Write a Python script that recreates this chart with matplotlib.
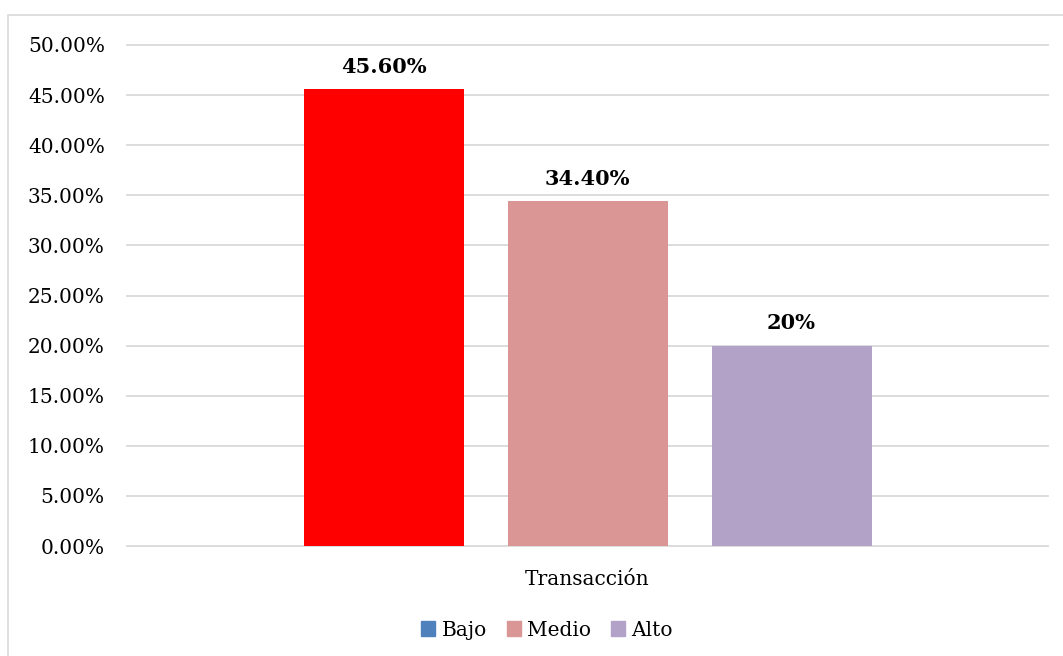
import matplotlib
matplotlib.use("Agg")
import matplotlib.pyplot as plt
from matplotlib.patches import Patch, Rectangle

niveles = ["Bajo", "Medio", "Alto"]
valores = [0.456, 0.344, 0.20]
etiquetas = ["45.60%", "34.40%", "20%"]
colores_barra = ["#FF0000", "#D99694", "#B3A2C7"]
colores_leyenda = ["#4F81BD", "#D99694", "#B3A2C7"]
categoria = "Transacción"
ticks = [i * 0.05 for i in range(11)]

plt.rcParams["font.family"] = ["DejaVu Serif"]

fig = plt.figure(figsize=(10.63, 6.56), dpi=100)
ax = fig.add_axes([127 / 1063, 1 - 546 / 656, 921 / 1063, 501 / 656])

# marco del gráfico
fig.patches.append(Rectangle((8 / 1063, -0.05), 1.2, 1 - 15 / 656 + 0.05,
                             transform=fig.transFigure, fill=False,
                             edgecolor="#d9d9d9", linewidth=1.2))

pos = [-1, 0, 1]
ancho = 160 / 204
ax.bar(pos, valores, width=ancho, color=colores_barra, zorder=3)
for x, v, t in zip(pos, valores, etiquetas):
    ax.annotate(t, (x, v), xytext=(0, 16), textcoords="offset points",
                ha="center", va="center", fontsize=15, fontweight="bold")

ax.set_xlim(-921 / 204 / 2, 921 / 204 / 2)
ax.set_ylim(0, 0.5)
ax.set_yticks(ticks)
ax.set_yticklabels([f"{t * 100:.2f}%" for t in ticks], fontsize=14.5)
ax.yaxis.grid(True, color="#d9d9d9", linewidth=1.3, zorder=0)
for gl in ax.get_ygridlines():
    gl.set_clip_on(False)
ax.set_xticks([0])
ax.set_xticklabels([categoria], fontsize=14.5)
ax.tick_params(axis="y", length=0, pad=16)
ax.tick_params(axis="x", length=0, pad=17)
for s in ax.spines.values():
    s.set_visible(False)

handles = [Patch(color=c, label=n) for c, n in zip(colores_leyenda, niveles)]
fig.legend(handles=handles, loc="center", bbox_to_anchor=(547 / 1063, 1 - 630 / 656),
           ncol=3, frameon=False, fontsize=14.5, handlelength=0.7, handleheight=0.7,
           handletextpad=0.3, columnspacing=1.0)

fig.savefig("out.png", dpi=100)
